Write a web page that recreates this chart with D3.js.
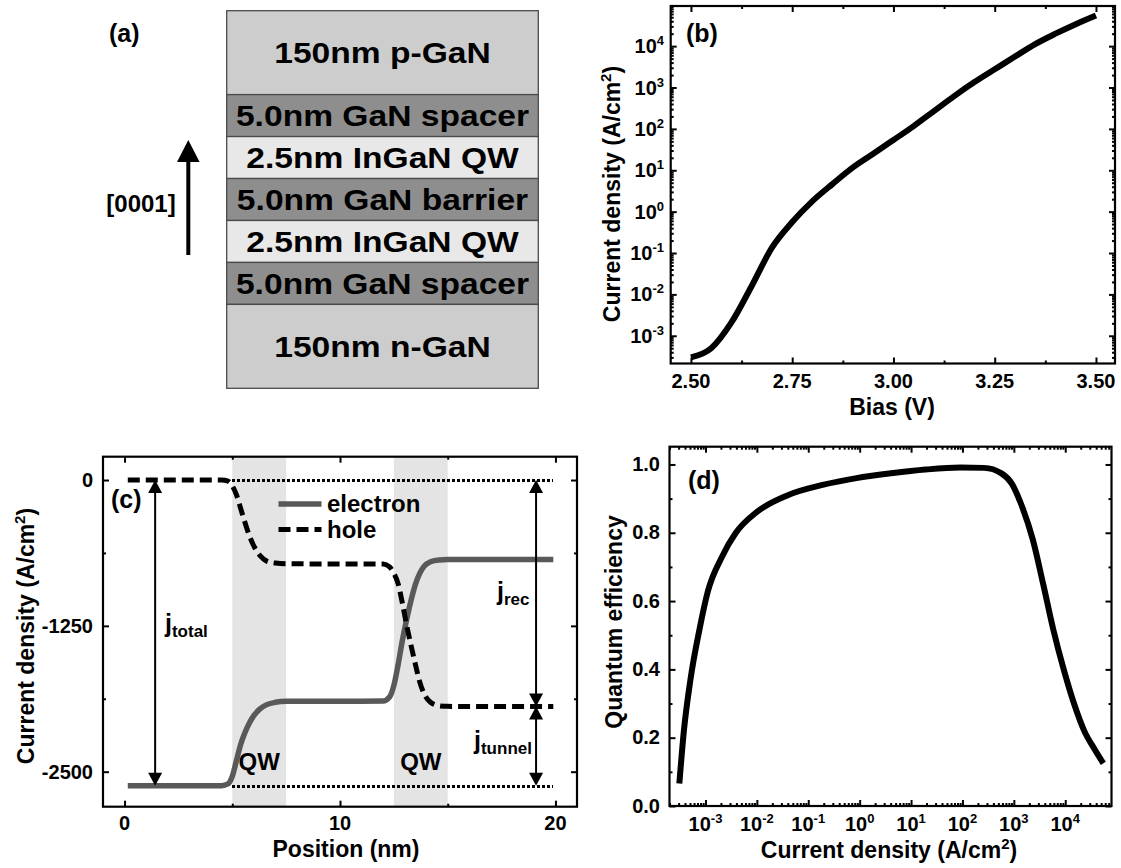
<!DOCTYPE html>
<html>
<head>
<meta charset="utf-8">
<script src="https://cdn.jsdelivr.net/npm/d3@7"></script>
<style>
  html, body { margin: 0; padding: 0; background: #fff; }
  svg { display: block; font-family: "Liberation Sans", Arial, Helvetica, sans-serif; font-weight: bold; }
</style>
</head>
<body>
<svg id="fig" width="1121" height="868"></svg>
<script>
// ---------------- data ----------------
// (a) epitaxial stack, top to bottom
const layerNames = ["150nm p-GaN", "5.0nm GaN spacer", "2.5nm InGaN QW", "5.0nm GaN barrier",
                    "2.5nm InGaN QW", "5.0nm GaN spacer", "150nm n-GaN"];
const layerMaterial = ["p-GaN", "GaN", "InGaN", "GaN", "InGaN", "GaN", "n-GaN"];
const layerThicknessNm = [150, 5.0, 2.5, 5.0, 2.5, 5.0, 150];

// (b) J-V characteristic
const biasV = [2.50, 2.55, 2.60, 2.65, 2.70, 2.75, 2.80, 2.85, 2.90, 2.95, 3.00,
               3.05, 3.10, 3.15, 3.20, 3.25, 3.30, 3.35, 3.40, 3.45, 3.50];
const currentDensityB = [3.0e-4, 5.0e-4, 2.1e-3, 1.6e-2, 0.135, 0.56, 1.8, 4.7, 11.7, 25, 54,
                         117, 270, 620, 1350, 2750, 5600, 11200, 20000, 34000, 55000];
const biasTicks = [2.50, 2.75, 3.00, 3.25, 3.50];
const biasMinorTicks = [2.625, 2.875, 3.125, 3.375];
const decadeExpB = [-3, -2, -1, 0, 1, 2, 3, 4];

// (c) carrier current densities across the active region
const positionNm = [0.15, 4.5, 4.8, 5.0, 5.2, 5.4, 5.6, 5.8, 6.0, 6.3, 6.6, 7.0, 7.5,
                    12.0, 12.3, 12.5, 12.7, 12.9, 13.1, 13.3, 13.5, 13.7, 13.9, 14.2, 14.6, 15.0, 19.9];
const electronJ = [-2620, -2620, -2605, -2540, -2400, -2260, -2160, -2080, -2020, -1960, -1925, -1905, -1897,
                   -1895, -1860, -1760, -1580, -1370, -1190, -1030, -895, -800, -740, -700, -685, -682, -681];
const holeJ = [0, 0, -10, -50, -130, -250, -370, -480, -565, -650, -695, -712, -718,
               -720, -745, -800, -890, -1060, -1250, -1420, -1580, -1730, -1830, -1905, -1935, -1940, -1942];
const qwRangesNm = [[5.0, 7.5], [12.5, 15.0]];
const jTotal = -2620, jHoleOut = -1942;
const positionTicks = [0, 10, 20];
const positionMinorTicks = [5, 15];
const currentTicksC = [0, -1250, -2500];
const currentMinorTicksC = [-625, -1875];
const seriesNames = ["electron", "hole"];

// (d) quantum efficiency versus current density
const currentDensityD = [3.1e-4, 3.8e-4, 5.1e-4, 7.6e-4, 1.12e-3, 2.1e-3, 3.9e-3, 9.8e-3, 0.04, 0.19,
                         0.87, 4.1, 19, 91, 263, 575, 912, 1450, 2340, 3720, 5890, 9330, 14800,
                         23400, 38000, 55000];
const quantumEff = [0.066, 0.22, 0.37, 0.515, 0.63, 0.73, 0.80, 0.86, 0.91, 0.94,
                    0.96, 0.974, 0.985, 0.991, 0.99, 0.974, 0.944, 0.876, 0.78, 0.65,
                    0.515, 0.40, 0.30, 0.22, 0.164, 0.125];
const qeTicks = [0.0, 0.2, 0.4, 0.6, 0.8, 1.0];
const qeMinorTicks = [0.1, 0.3, 0.5, 0.7, 0.9];
const decadeExpD = [-3, -2, -1, 0, 1, 2, 3, 4];

// ---------------- helpers ----------------
const svg = d3.select("#fig");
svg.append("rect").attr("width", 1121).attr("height", 868).attr("fill", "#fff");

const TICK_FS = 20, LABEL_FS = 23, SUP_FS = 13, TAG_FS = 25;

function logMinor(scale) {
  const [a, b] = scale.domain();
  const out = [];
  for (let e = Math.floor(Math.log10(a)); e <= Math.ceil(Math.log10(b)); e++) {
    for (let k = 2; k <= 9; k++) {
      const v = k * Math.pow(10, e);
      if (v >= a && v <= b) out.push(v);
    }
  }
  return out;
}

// Frame with inward ticks mirrored on all four sides
function boxAxes(g, xs, ys, xMajor, xMinor, yMajor, yMinor) {
  const [x0, x1] = xs.range();
  const [y0, y1] = ys.range();
  const sides = [
    [d3.axisBottom, xs, `translate(0,${y0})`, xMajor, xMinor],
    [d3.axisTop, xs, `translate(0,${y1})`, xMajor, xMinor],
    [d3.axisLeft, ys, `translate(${x0},0)`, yMajor, yMinor],
    [d3.axisRight, ys, `translate(${x1},0)`, yMajor, yMinor]
  ];
  sides.forEach(([fn, sc, tr, maj, min]) => {
    [[maj, 6], [min, 3]].forEach(([vals, len]) => {
      const s = g.append("g").attr("transform", tr)
        .call(fn(sc).tickValues(vals).tickSize(-len).tickFormat(""));
      s.select(".domain").remove();
      s.selectAll("text").remove();
      s.selectAll("line").attr("stroke", "#000").attr("stroke-width", 2);
    });
  });
  g.append("rect")
    .attr("x", x0).attr("y", y1).attr("width", x1 - x0).attr("height", y0 - y1)
    .attr("fill", "none").attr("stroke", "#000").attr("stroke-width", 2.2);
}

function powerLabel(t, exp) {
  t.append("tspan").text("10");
  t.append("tspan").attr("dy", -8).attr("font-size", SUP_FS).text(String(exp));
}

function unitLabel(t, prefix) {
  t.append("tspan").text(prefix + " (A/cm");
  t.append("tspan").attr("dy", -9).attr("font-size", 15).text("2");
  t.append("tspan").attr("dy", 9).text(")");
}

// ---------------- (a) layer stack ----------------
{
  const g = svg.append("g");
  const shade = { "p-GaN": "#cdcdcd", "n-GaN": "#cdcdcd", "GaN": "#8e8e8e", "InGaN": "#e8e8e8" };
  const units = layerThicknessNm.map(t => (t > 100 ? 2 : 1)); // bulk layers drawn double height
  const cum = [0];
  units.forEach(u => cum.push(cum[cum.length - 1] + u));
  const ly = d3.scaleLinear().domain([0, cum[cum.length - 1]]).range([10.7, 388.3]);
  const x0 = 226.7, x1 = 538.3, cx = (x0 + x1) / 2;

  layerNames.forEach((name, i) => {
    const top = ly(cum[i]), bot = ly(cum[i + 1]);
    g.append("rect").attr("x", x0).attr("y", top).attr("width", x1 - x0).attr("height", bot - top)
      .attr("fill", shade[layerMaterial[i]]).attr("stroke", "#4a4a4a").attr("stroke-width", 1.3);
    g.append("text")
      .attr("transform", `translate(${cx},${(top + bot) / 2 + 10.5}) scale(1.12,1)`)
      .attr("text-anchor", "middle").attr("font-size", 30).attr("fill", "#000")
      .text(name);
  });

  // growth direction arrow
  g.append("line").attr("x1", 188.3).attr("x2", 188.3).attr("y1", 255).attr("y2", 158)
    .attr("stroke", "#000").attr("stroke-width", 4);
  g.append("path").attr("d", "M188.3,140 L177,162 L199.6,162 Z").attr("fill", "#000");
  g.append("text").attr("x", 141).attr("y", 211.5).attr("text-anchor", "middle")
    .attr("font-size", 24).text("[0001]");
  g.append("text").attr("x", 109).attr("y", 42).attr("font-size", TAG_FS).text("(a)");
}

// ---------------- (b) J-V ----------------
{
  const g = svg.append("g");
  const x = d3.scaleLinear().domain([2.45, 3.547]).range([670.7, 1115]);
  const y = d3.scaleLog().domain([Math.pow(10, -3.67), Math.pow(10, 4.97)]).range([363.5, 6]);

  const line = d3.line().x(d => x(d[0])).y(d => y(d[1])).curve(d3.curveMonotoneX);
  g.append("path").datum(d3.zip(biasV, currentDensityB)).attr("d", line)
    .attr("fill", "none").attr("stroke", "#000").attr("stroke-width", 6);

  boxAxes(g, x, y, biasTicks, biasMinorTicks, decadeExpB.map(e => Math.pow(10, e)), logMinor(y));

  g.selectAll(".xl").data(biasTicks).join("text")
    .attr("x", d => x(d)).attr("y", 388).attr("text-anchor", "middle")
    .attr("font-size", TICK_FS).text(d => d3.format(".2f")(d));
  g.selectAll(".yl").data(decadeExpB).join("text")
    .attr("x", 664).attr("y", d => y(Math.pow(10, d)) + 7).attr("text-anchor", "end")
    .attr("font-size", TICK_FS).each(function (d) { powerLabel(d3.select(this), d); });

  g.append("text").attr("x", 892).attr("y", 415).attr("text-anchor", "middle")
    .attr("font-size", LABEL_FS).text("Bias (V)");
  g.append("text").attr("transform", "translate(620,194) rotate(-90)").attr("text-anchor", "middle")
    .attr("font-size", LABEL_FS).call(t => unitLabel(t, "Current density"));
  g.append("text").attr("x", 686).attr("y", 42).attr("font-size", TAG_FS).text("(b)");
}

// ---------------- (c) carrier currents ----------------
{
  const g = svg.append("g");
  const x = d3.scaleLinear().domain([-1, 21]).range([103, 577]);
  const y = d3.scaleLinear().domain([-2800, 200]).range([806.7, 456.7]);
  const [yb, yt] = y.range();

  g.selectAll(".qw").data(qwRangesNm).join("rect")
    .attr("x", d => x(d[0])).attr("width", d => x(d[1]) - x(d[0]))
    .attr("y", yt).attr("height", yb - yt).attr("fill", "#e4e4e4");

  // reference levels (zero and total current)
  [0, jTotal].forEach(v => {
    const py = Math.round(y(v));
    g.append("line").attr("x1", x(5)).attr("x2", x(19.9)).attr("y1", py).attr("y2", py)
      .attr("stroke", "#000").attr("stroke-width", 3).attr("stroke-dasharray", "2.5,2.5")
      .attr("shape-rendering", "crispEdges");
  });

  const line = d3.line().x(d => x(d[0])).y(d => y(d[1])).curve(d3.curveMonotoneX);
  g.append("path").datum(d3.zip(positionNm, electronJ)).attr("d", line)
    .attr("fill", "none").attr("stroke", "#595959").attr("stroke-width", 5.5);
  g.append("path").datum(d3.zip(positionNm, holeJ)).attr("d", line)
    .attr("fill", "none").attr("stroke", "#000").attr("stroke-width", 5)
    .attr("stroke-dasharray", "12,6");

  // double-headed arrows
  function dArrow(xv, v1, v2) {
    const px = x(xv), ya = y(v1), yb2 = y(v2);
    const dir = yb2 > ya ? 1 : -1, hl = 13, hw = 7;
    g.append("line").attr("x1", px).attr("x2", px).attr("y1", ya + dir * 6).attr("y2", yb2 - dir * 6)
      .attr("stroke", "#000").attr("stroke-width", 2);
    g.append("path").attr("fill", "#000")
      .attr("d", `M${px},${ya} L${px - hw},${ya + dir * hl} L${px + hw},${ya + dir * hl} Z`);
    g.append("path").attr("fill", "#000")
      .attr("d", `M${px},${yb2} L${px - hw},${yb2 - dir * hl} L${px + hw},${yb2 - dir * hl} Z`);
  }
  dArrow(1.42, 0, jTotal);
  dArrow(19.1, 0, jHoleOut);
  dArrow(19.1, jHoleOut, jTotal);

  function jLabel(px, py, sub) {
    const t = g.append("text").attr("x", px).attr("y", py).attr("font-size", 25);
    t.append("tspan").text("j");
    t.append("tspan").attr("dy", 5).attr("font-size", 17).text(sub);
  }
  jLabel(165, 632, "total");
  jLabel(497, 600, "rec");
  jLabel(474, 749, "tunnel");

  qwRangesNm.forEach(r => {
    g.append("text").attr("x", x((r[0] + r[1]) / 2)).attr("y", 770).attr("text-anchor", "middle")
      .attr("font-size", 24).text("QW");
  });

  // legend
  const lg = g.append("g");
  seriesNames.forEach((name, i) => {
    const ly = 504 + i * 25.5;
    lg.append("line").attr("x1", 278.5).attr("x2", 321.5).attr("y1", ly).attr("y2", ly)
      .attr("stroke", i === 0 ? "#595959" : "#000").attr("stroke-width", i === 0 ? 5.5 : 5)
      .attr("stroke-dasharray", i === 0 ? null : "12,6");
    lg.append("text").attr("x", 327).attr("y", ly + 8).attr("font-size", 24).text(name);
  });

  boxAxes(g, x, y, positionTicks, positionMinorTicks, currentTicksC, currentMinorTicksC);

  g.selectAll(".xl").data(positionTicks).join("text")
    .attr("x", d => x(d)).attr("y", 830).attr("text-anchor", "middle")
    .attr("font-size", TICK_FS).text(d => String(d));
  g.selectAll(".yl").data(currentTicksC).join("text")
    .attr("x", 93).attr("y", d => y(d) + 7).attr("text-anchor", "end")
    .attr("font-size", TICK_FS).text(d => String(d));

  g.append("text").attr("x", 346).attr("y", 857).attr("text-anchor", "middle")
    .attr("font-size", LABEL_FS).text("Position (nm)");
  g.append("text").attr("transform", "translate(34,636) rotate(-90)").attr("text-anchor", "middle")
    .attr("font-size", LABEL_FS).call(t => unitLabel(t, "Current density"));
  g.append("text").attr("x", 111).attr("y", 508).attr("font-size", TAG_FS).text("(c)");
}

// ---------------- (d) efficiency ----------------
{
  const g = svg.append("g");
  const x = d3.scaleLog().domain([Math.pow(10, -3.70), Math.pow(10, 4.90)]).range([669.5, 1111.5]);
  const y = d3.scaleLinear().domain([0, 1.052]).range([806, 446.7]);

  const line = d3.line().x(d => x(d[0])).y(d => y(d[1])).curve(d3.curveMonotoneX);
  g.append("path").datum(d3.zip(currentDensityD, quantumEff)).attr("d", line)
    .attr("fill", "none").attr("stroke", "#000").attr("stroke-width", 6);

  boxAxes(g, x, y, decadeExpD.map(e => Math.pow(10, e)), logMinor(x), qeTicks, qeMinorTicks);

  g.selectAll(".xl").data(decadeExpD).join("text")
    .attr("x", d => x(Math.pow(10, d))).attr("y", 831).attr("text-anchor", "middle")
    .attr("font-size", TICK_FS).each(function (d) { powerLabel(d3.select(this), d); });
  g.selectAll(".yl").data(qeTicks).join("text")
    .attr("x", 660).attr("y", d => y(d) + 6.5).attr("text-anchor", "end")
    .attr("font-size", TICK_FS).text(d => d3.format(".1f")(d));

  g.append("text").attr("x", 889).attr("y", 858).attr("text-anchor", "middle")
    .attr("font-size", LABEL_FS).call(t => unitLabel(t, "Current density"));
  g.append("text").attr("transform", "translate(622,622) rotate(-90)").attr("text-anchor", "middle")
    .attr("font-size", LABEL_FS).text("Quantum efficiency");
  g.append("text").attr("x", 688).attr("y", 489).attr("font-size", TAG_FS).text("(d)");
}
</script>
</body>
</html>
